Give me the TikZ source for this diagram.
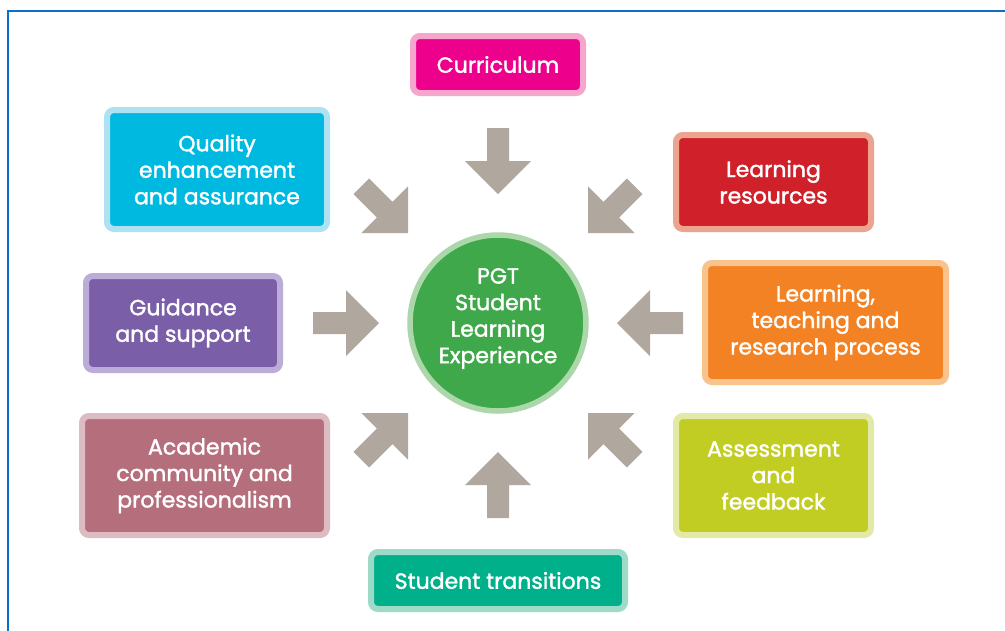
\documentclass[tikz,border=0pt]{standalone}
\usepackage{fontspec}
\setmainfont{Poppins}[FakeBold=1.6]
\usetikzlibrary{calc}
\definecolor{framecol}{HTML}{0B6FC6}
\definecolor{arrowgray}{HTML}{B0A89E}
\definecolor{curF}{HTML}{EC008C}\definecolor{curB}{HTML}{F6A6CC}
\definecolor{quaF}{HTML}{00B9E1}\definecolor{quaB}{HTML}{AEE2F3}
\definecolor{resF}{HTML}{D0202A}\definecolor{resB}{HTML}{ECA48E}
\definecolor{ltrF}{HTML}{F28223}\definecolor{ltrB}{HTML}{F9C38E}
\definecolor{guiF}{HTML}{7A5FA8}\definecolor{guiB}{HTML}{BCADD8}
\definecolor{acaF}{HTML}{B56E7C}\definecolor{acaB}{HTML}{DDBBC2}
\definecolor{assF}{HTML}{C2CD23}\definecolor{assB}{HTML}{E3E9A6}
\definecolor{stuF}{HTML}{00B08A}\definecolor{stuB}{HTML}{9DDAC8}
\definecolor{hubF}{HTML}{3FA84A}\definecolor{hubB}{HTML}{ABD7AB}
\begin{document}
\begin{tikzpicture}[x=1pt,y=-1pt,
  lbl/.style={align=center, text=white, inner sep=0pt, font=\fontsize{22}{26.5}\selectfont},
  box/.style={lbl, rounded corners=7pt, line width=6pt},
  barrow/.pic={\fill[arrowgray] (0,0) -- (-33,-33) -- (-33,-11) -- (-66,-11)
    -- (-66,11) -- (-33,11) -- (-33,33) -- cycle;}
]
\useasboundingbox (0,0) rectangle (1005,630);
\fill[white] (0,0) rectangle (1005,630);
\draw[framecol, line width=2.4pt] (8,631) -- (8,11) -- (1006,11);

% centre
\node[circle, fill=hubF, draw=hubB, line width=5.5pt, minimum size=176pt, inner sep=0pt]
  (hub) at (498,323) {};
\node[lbl] (hubtext) at (498,318.5) {PGT\\Student\\Learning\\Experience};

% boxes
\node[box, fill=curF, draw=curB, minimum width=170pt, minimum height=57pt] (cur) at (498,64.5) {Curriculum};
\node[box, fill=quaF, draw=quaB, minimum width=220pt, minimum height=119pt] (qua) at (217,169.5) {Quality\\enhancement\\and assurance};
\node[box, fill=resF, draw=resB, minimum width=195pt, minimum height=94pt] (res) at (773.5,182) {Learning\\resources};
\node[box, fill=guiF, draw=guiB, minimum width=194pt, minimum height=94pt] (gui) at (183,323) {Guidance\\and support};
\node[box, fill=ltrF, draw=ltrB, minimum width=241pt, minimum height=119pt] (ltr) at (825.5,322.5) {Learning,\\teaching and\\research process};
\node[box, fill=acaF, draw=acaB, minimum width=245pt, minimum height=119pt] (aca) at (204.5,475.5) {Academic\\community and\\professionalism};
\node[box, fill=assF, draw=assB, minimum width=195pt, minimum height=119pt] (ass) at (773.5,475.5) {Assessment\\and\\feedback};
\node[box, fill=stuF, draw=stuB, minimum width=254pt, minimum height=57pt] (stu) at (498,580.5) {Student transitions};

% block arrows pointing at the hub
\pic[rotate=-90] at ($(hub)+(0,-129)$) {barrow};
\pic[rotate=90] at ($(hub)+(0,129)$) {barrow};
\pic[rotate=0] at ($(hub)+(-119,0)$) {barrow};
\pic[rotate=180] at ($(hub)+(119,0)$) {barrow};
\pic[rotate=-45] at ($(hub)+(-90,-90)$) {barrow};
\pic[rotate=-135] at ($(hub)+(90,-90)$) {barrow};
\pic[rotate=45] at ($(hub)+(-90,90)$) {barrow};
\pic[rotate=135] at ($(hub)+(90,90)$) {barrow};
\end{tikzpicture}
\end{document}
